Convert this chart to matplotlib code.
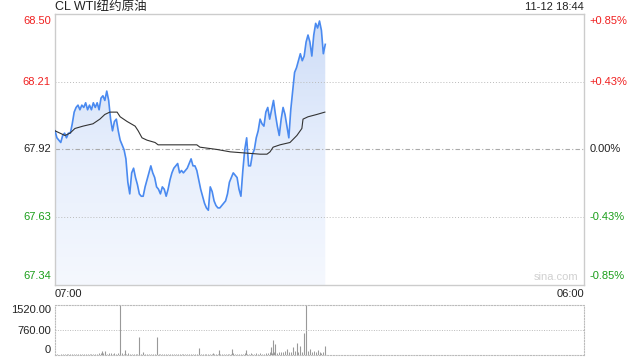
import numpy as np
import matplotlib as mpl
mpl.use('Agg')
import matplotlib.pyplot as plt
from matplotlib.colors import LinearSegmentedColormap

plt.rcParams['font.family'] = ['Liberation Sans', 'Noto Sans CJK SC', 'DejaVu Sans']

title = 'CL WTI纽约原油'
stamp = '11-12 18:44'
prev_close = 67.92

# price every 5 minutes from 07:00
prices = [
    68.00, 67.97, 67.96, 67.95, 67.98, 67.99, 67.97, 67.99, 67.99, 68.03,
    68.08, 68.10, 68.11, 68.09, 68.11, 68.10, 68.12, 68.09, 68.11, 68.09,
    68.12, 68.10, 68.12, 68.09, 68.14, 68.15, 68.13, 68.17, 68.13, 68.05,
    68.00, 68.04, 68.05, 68.00, 67.96, 67.94, 67.92, 67.88, 67.78, 67.73,
    67.82, 67.84, 67.80, 67.77, 67.73, 67.72, 67.72, 67.76, 67.79, 67.82,
    67.85, 67.82, 67.80, 67.76, 67.75, 67.73, 67.76, 67.75, 67.72, 67.75,
    67.79, 67.82, 67.84, 67.85, 67.86, 67.82, 67.83, 67.82, 67.83, 67.84,
    67.86, 67.88, 67.85, 67.85, 67.83, 67.79, 67.75, 67.72, 67.69, 67.67,
    67.66, 67.76, 67.74, 67.70, 67.68, 67.67, 67.67, 67.68, 67.69, 67.70,
    67.73, 67.78, 67.80, 67.82, 67.81, 67.80, 67.75, 67.72, 67.83, 67.92,
    67.97, 67.85, 67.85, 67.90, 67.92, 67.97, 68.00, 68.05, 68.03, 68.02,
    68.08, 68.10, 68.05, 68.09, 68.13, 68.07, 68.02, 67.98, 68.05, 68.10,
    68.07, 68.02, 67.97, 68.09, 68.17, 68.25, 68.27, 68.30, 68.33, 68.30,
    68.32, 68.38, 68.41, 68.38, 68.32, 68.41, 68.46, 68.44, 68.47, 68.43,
    68.33, 68.37,
]

# average price line
avg_min = [0, 13, 26, 39, 52, 73, 99, 117, 130, 143, 162, 170, 188, 209, 217,
           227, 240, 261, 269, 370, 378, 423, 457, 535, 553, 561, 569, 587,
           613, 631, 644, 647, 660, 683, 704]
avg_val = [68.00, 67.99, 67.98, 67.99, 68.01, 68.02, 68.03, 68.05, 68.07, 68.08,
           68.08, 68.06, 68.04, 68.02, 68.00, 67.97, 67.96, 67.95, 67.94, 67.94,
           67.93, 67.92, 67.91, 67.90, 67.90, 67.91, 67.93, 67.94, 67.95, 67.98,
           68.01, 68.05, 68.06, 68.07, 68.08]

# volume: regular 5-minute bars plus the tall single bars
base_vol = [
    20, 25, 15, 30, 20, 25, 30, 20, 25, 30,
    20, 35, 25, 30, 20, 25, 40, 30, 25, 35,
    30, 45, 40, 60, 50, 70, 40, 45, 50, 60,
    40, 55, 45, 60, 70, 50, 45, 40, 50, 35,
    40, 30, 35, 40, 30, 25, 35, 30, 40, 35,
    30, 25, 30, 20, 25, 30, 35, 25, 20, 30,
    25, 30, 20, 25, 30, 25, 35, 20, 25, 30,
    30, 25, 35, 30, 25, 40, 30, 35, 25, 30,
    35, 40, 30, 35, 45, 30, 40, 35, 30, 40,
    35, 45, 40, 50, 35, 40, 45, 35, 40, 50,
    45, 40, 50, 45, 40, 55, 45, 50, 40, 45,
    50, 60, 80, 70, 90, 60, 70, 100, 80, 90,
    120, 80, 100, 90, 110, 130, 90, 100, 120, 80,
    110, 90, 130, 100, 80, 120, 90, 70, 100, 60,
    80, 90,
]
spike_min = [123, 130, 170, 183, 219, 229, 266, 376, 412, 428, 462, 498, 563,
             569, 574, 605, 621, 631, 639, 650, 655, 665, 686, 704]
spike_vol = [115, 130, 1520, 160, 540, 100, 540, 226, 70, 140, 190, 140, 230,
             470, 330, 170, 230, 380, 280, 670, 1520, 170, 150, 260]

y_ticks = [68.50, 68.21, 67.92, 67.63, 67.34]
pct_labels = ['+0.85%', '+0.43%', '0.00%', '-0.43%', '-0.85%']
tick_colors = ['#f02020', '#f02020', '#222222', '#1a9e1a', '#1a9e1a']
vol_ticks = [1520, 760, 0]
vol_labels = ['1520.00', '760.00', '0']

minutes = np.arange(len(prices)) * 5
x_end = 1380  # 07:00 -> 06:00

fig = plt.figure(figsize=(6.4, 3.6), dpi=100)
ax = fig.add_axes([55/640, 1 - 285/360, 529/640, 271/360])
vax = fig.add_axes([55/640, 1 - 355/360, 529/640, 50/360])

ymin, ymax = y_ticks[-1], y_ticks[0]
ax.set_xlim(0, x_end)
ax.set_ylim(ymin, ymax)

# gradient fill under price
poly = ax.fill_between(minutes, prices, ymin, color='none', lw=0)
cmap = LinearSegmentedColormap.from_list('f', ['#f5f8fe', '#e6eefc', '#cddcf7'])
grad = np.linspace(1, 0, 256).reshape(-1, 1)
im = ax.imshow(grad, cmap=cmap, extent=[0, minutes[-1], ymin, ymax],
               aspect='auto', zorder=1)
im.set_clip_path(poly.get_paths()[0], transform=ax.transData)

ax.plot(minutes, prices, color='#4a8af0', lw=1.2, zorder=3)
ax.plot(avg_min, avg_val, color='#333333', lw=0.8, zorder=4)

for v in y_ticks[1:-1]:
    if v == prev_close:
        ax.axhline(v, color='#aaaaaa', lw=0.8, ls=(0, (4, 2, 1, 2)), zorder=2)
    else:
        ax.axhline(v, color='#bbbbbb', lw=0.7, ls=(0, (1, 2)), zorder=2)

ax.set_xticks([])
ax.set_yticks([])
for s in ax.spines.values():
    s.set_color('#cccccc')
    s.set_linewidth(1)

vas = ['top', 'center', 'center', 'center', 'bottom']
offs = [-1.5, 0, 0, 0, 3]
for v, lab, c, va, o in zip(y_ticks, pct_labels, tick_colors, vas, offs):
    ax.annotate('%.2f' % v, (0, v), xycoords=('axes fraction', 'data'),
                xytext=(-3, o), textcoords='offset points',
                ha='right', va=va, color=c, fontsize=8)
    ax.annotate(lab, (1, v), xycoords=('axes fraction', 'data'),
                xytext=(4, o), textcoords='offset points',
                ha='left', va=va, color=c, fontsize=8)

fig.text(55/640, 1 - 7/360, title, ha='left', va='center',
         fontsize=9, color='#222222')
fig.text(584/640, 1 - 7/360, stamp, ha='right', va='center',
         fontsize=8, color='#222222')
ax.text(0, -0.015, '07:00', transform=ax.transAxes, ha='left', va='top',
        fontsize=8, color='#222222')
ax.text(1, -0.015, '06:00', transform=ax.transAxes, ha='right', va='top',
        fontsize=8, color='#222222')
ax.text(0.99, 0.01, 'sina.com', transform=ax.transAxes, ha='right',
        va='bottom', fontsize=8, color='#d0d0d0')

# volume panel
vax.set_xlim(0, x_end)
vax.set_ylim(0, vol_ticks[0])
vax.vlines(minutes, 0, base_vol, color='#999999', lw=0.7)
vax.vlines(spike_min, 0, spike_vol, color='#999999', lw=0.8)
vax.axhline(vol_ticks[1], color='#bbbbbb', lw=0.7, ls=(0, (1, 1.5)))
vax.set_xticks([])
vax.set_yticks(vol_ticks)
vax.set_yticklabels(vol_labels, fontsize=8, color='#222222')
vax.tick_params(axis='y', length=0, pad=3)
vlabs = vax.get_yticklabels()
vlabs[0].set_va('top')
vlabs[-1].set_va('bottom')
for s in vax.spines.values():
    s.set_color('#bbbbbb')
    s.set_linewidth(0.8)
    s.set_linestyle((0, (1, 1.5)))

fig.savefig('out.png', dpi=100)
